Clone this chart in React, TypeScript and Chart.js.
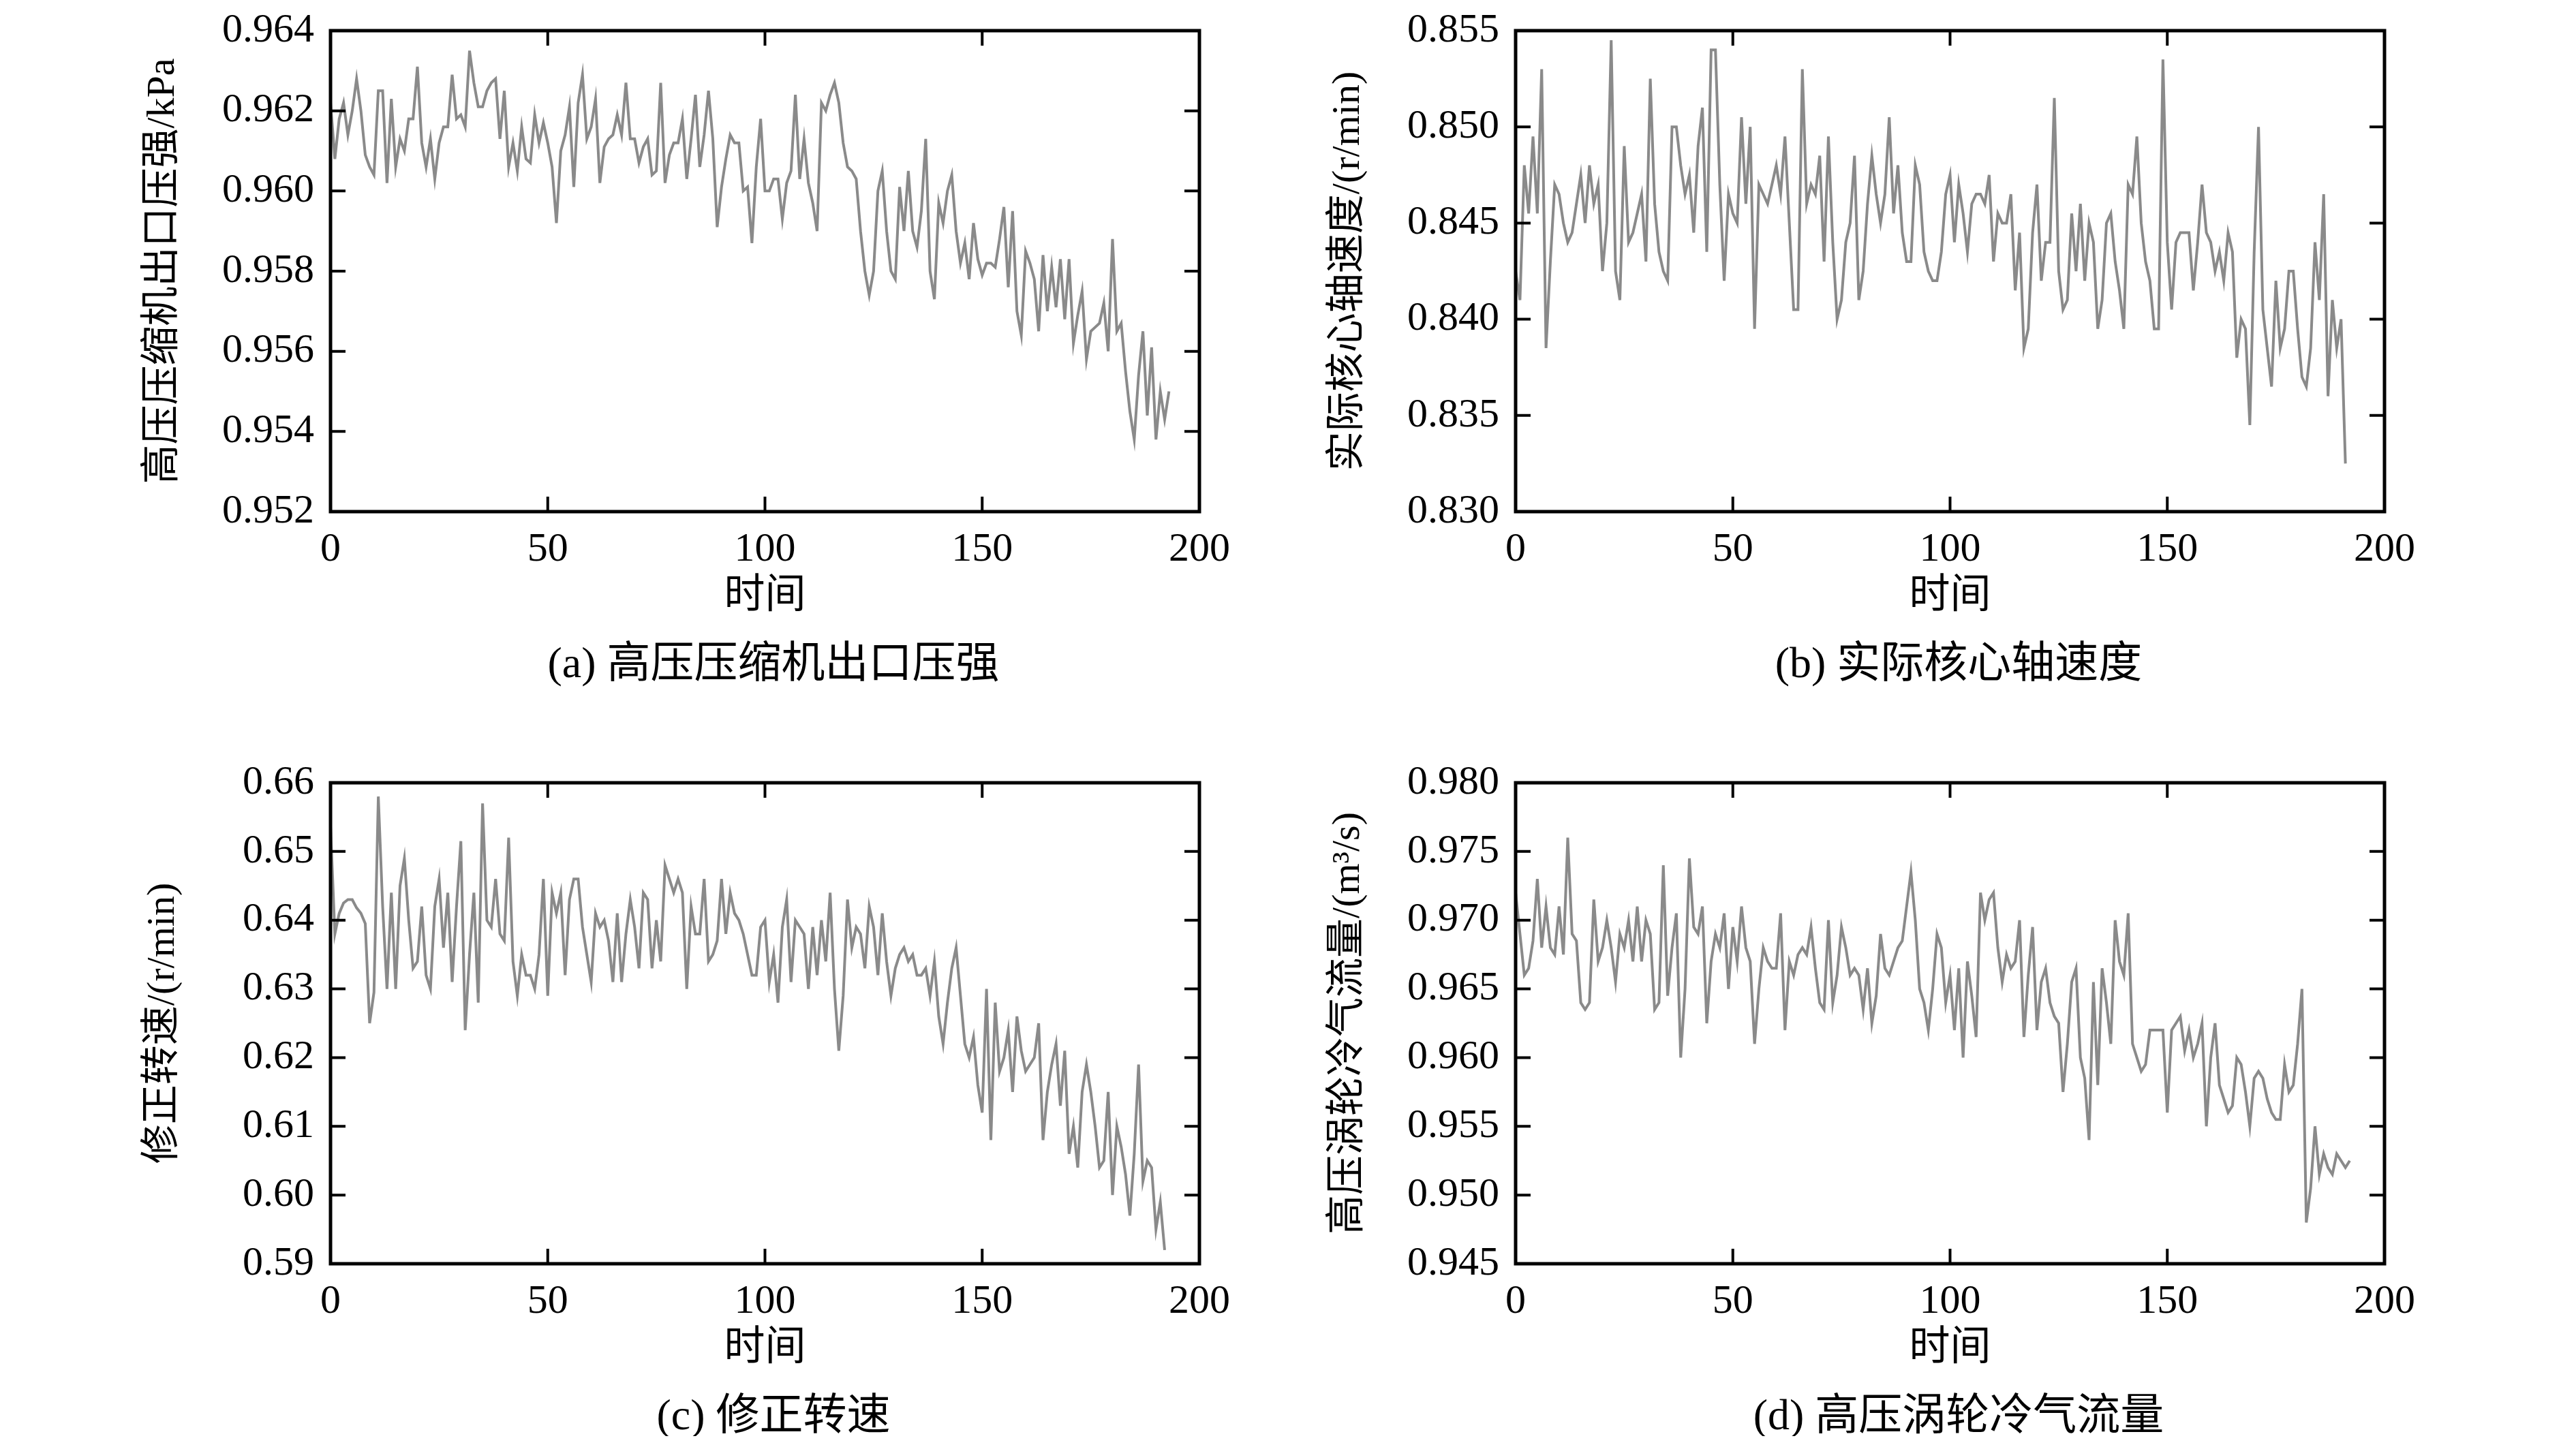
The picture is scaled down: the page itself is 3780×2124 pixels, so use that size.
import { useRef, useEffect } from 'react';
import { Chart, registerables } from 'chart.js';

Chart.register(...registerables);

const pressure = [
  0.9622, 0.9608, 0.9618, 0.9622, 0.9614, 0.9620, 0.9628, 0.9620, 0.9609, 0.9606, 0.9604, 0.9625, 0.9625, 0.9602,
  0.9623, 0.9606, 0.9613, 0.961, 0.9618, 0.9618, 0.9631, 0.9612, 0.9606, 0.9613, 0.9603, 0.9612, 0.9616, 0.9616,
  0.9629, 0.9618, 0.9619, 0.9616, 0.9635, 0.9627, 0.9621, 0.9621, 0.9625, 0.9627, 0.9628, 0.9613, 0.9625, 0.9606,
  0.9612, 0.9605, 0.9616, 0.9608, 0.9607, 0.9619, 0.9612, 0.9617, 0.9612, 0.9606, 0.9592, 0.961, 0.9614, 0.9621,
  0.9601, 0.9622, 0.9629, 0.9613, 0.9616, 0.9623, 0.9602, 0.9611, 0.9613, 0.9614, 0.9619, 0.9614, 0.9627, 0.9613,
  0.9613, 0.9607, 0.9611, 0.9613, 0.9604, 0.9605, 0.9627, 0.9602, 0.9609, 0.9612, 0.9612, 0.9618, 0.9603, 0.9613,
  0.9624, 0.9606, 0.9614, 0.9625, 0.9613, 0.9591, 0.9601, 0.9608, 0.9614, 0.9612, 0.9612, 0.96, 0.9601, 0.9587,
  0.9606, 0.9618, 0.96, 0.96, 0.9603, 0.9603, 0.9593, 0.9602, 0.9605, 0.9624, 0.9603, 0.9613, 0.9602, 0.9597,
  0.959, 0.9622, 0.962, 0.9624, 0.9627, 0.9622, 0.9612, 0.9606, 0.9605, 0.9603, 0.959, 0.958, 0.9574, 0.958,
  0.96, 0.9605, 0.959, 0.958, 0.9578, 0.9601, 0.959, 0.9605, 0.959, 0.9586, 0.9595, 0.9613, 0.958, 0.9573,
  0.9597, 0.9592, 0.96, 0.9604, 0.959, 0.9582, 0.9587, 0.9578, 0.9592, 0.9583, 0.9579, 0.9582, 0.9582, 0.9581,
  0.9588, 0.9596, 0.9576, 0.9595, 0.957, 0.9564, 0.9585, 0.9582, 0.9578, 0.9565, 0.9584, 0.957, 0.9581, 0.9571,
  0.9583, 0.9568, 0.9583, 0.9562, 0.9569, 0.9575, 0.9558, 0.9565, 0.9566, 0.9567, 0.9572, 0.956, 0.9588, 0.9565,
  0.9567, 0.9555, 0.9545, 0.9538, 0.9554, 0.9565, 0.9544, 0.9561, 0.9538, 0.955, 0.9543, 0.955,
];

const coreSpeed = [
  0.8425, 0.841, 0.848, 0.8455, 0.8495, 0.8455, 0.853, 0.8385, 0.843, 0.847, 0.8465, 0.845, 0.844, 0.8445, 0.846,
  0.8475, 0.845, 0.848, 0.846, 0.847, 0.8425, 0.845, 0.8545, 0.8425, 0.841, 0.849, 0.844, 0.8445, 0.8455, 0.8465,
  0.843, 0.8525, 0.846, 0.8435, 0.8425, 0.842, 0.85, 0.85, 0.848, 0.8465, 0.8475, 0.8445, 0.849, 0.851, 0.8435,
  0.854, 0.854, 0.847, 0.842, 0.8465, 0.8455, 0.845, 0.8505, 0.846, 0.85, 0.8395, 0.847, 0.8465, 0.846, 0.847,
  0.848, 0.8465, 0.8495, 0.845, 0.8405, 0.8405, 0.853, 0.846, 0.847, 0.8465, 0.8485, 0.843, 0.8495, 0.844, 0.84,
  0.841, 0.844, 0.845, 0.8485, 0.841, 0.8425, 0.846, 0.8485, 0.8465, 0.845, 0.8465, 0.8505, 0.8455, 0.848, 0.8445,
  0.843, 0.843, 0.848, 0.847, 0.8435, 0.8425, 0.842, 0.842, 0.8435, 0.8465, 0.8475, 0.844, 0.847, 0.8455, 0.8435,
  0.846, 0.8465, 0.8465, 0.846, 0.8475, 0.843, 0.8455, 0.845, 0.845, 0.8465, 0.8415, 0.8445, 0.8385, 0.8395,
  0.8445, 0.847, 0.842, 0.844, 0.844, 0.8515, 0.8425, 0.8405, 0.841, 0.8455, 0.8425, 0.846, 0.842, 0.845, 0.844,
  0.8395, 0.841, 0.845, 0.8455, 0.843, 0.8415, 0.8395, 0.847, 0.8465, 0.8495, 0.845, 0.843, 0.842, 0.8395, 0.8395,
  0.8535, 0.844, 0.8405, 0.844, 0.8445, 0.8445, 0.8445, 0.8415, 0.844, 0.847, 0.8445, 0.844, 0.8425, 0.8435,
  0.842, 0.8445, 0.8435, 0.838, 0.84, 0.8395, 0.8345, 0.8435, 0.85, 0.8405, 0.8385, 0.8365, 0.842, 0.8385,
  0.8395, 0.8425, 0.8425, 0.8395, 0.837, 0.8365, 0.8385, 0.844, 0.841, 0.8465, 0.836, 0.841, 0.8385, 0.84, 0.8325,
];

const correctedSpeed = [
  0.6537, 0.638, 0.641, 0.6425, 0.643, 0.643, 0.6418, 0.641, 0.6395, 0.625, 0.6295, 0.658, 0.642, 0.63, 0.644,
  0.63, 0.645, 0.649, 0.64, 0.633, 0.634, 0.642, 0.632, 0.63, 0.642, 0.646, 0.636, 0.644, 0.631, 0.642, 0.6515,
  0.624, 0.635, 0.644, 0.628, 0.657, 0.64, 0.639, 0.646, 0.638, 0.637, 0.652, 0.634, 0.629, 0.635, 0.632, 0.632,
  0.63, 0.635, 0.646, 0.629, 0.644, 0.641, 0.644, 0.632, 0.643, 0.646, 0.646, 0.639, 0.635, 0.631, 0.641, 0.639,
  0.64, 0.637, 0.631, 0.641, 0.631, 0.638, 0.643, 0.639, 0.633, 0.644, 0.643, 0.633, 0.64, 0.634, 0.648, 0.646,
  0.644, 0.646, 0.644, 0.63, 0.642, 0.638, 0.638, 0.646, 0.634, 0.635, 0.637, 0.646, 0.638, 0.644, 0.641, 0.64,
  0.638, 0.635, 0.632, 0.632, 0.639, 0.64, 0.631, 0.635, 0.628, 0.639, 0.643, 0.631, 0.64, 0.639, 0.638, 0.63,
  0.639, 0.632, 0.64, 0.634, 0.644, 0.63, 0.621, 0.629, 0.643, 0.636, 0.639, 0.638, 0.633, 0.642, 0.639, 0.632,
  0.641, 0.634, 0.629, 0.633, 0.635, 0.636, 0.634, 0.635, 0.632, 0.632, 0.633, 0.629, 0.634, 0.626, 0.622, 0.628,
  0.633, 0.636, 0.629, 0.622, 0.62, 0.623, 0.616, 0.612, 0.63, 0.608, 0.628, 0.618, 0.62, 0.624, 0.615, 0.626,
  0.621, 0.618, 0.619, 0.62, 0.625, 0.608, 0.615, 0.619, 0.622, 0.613, 0.621, 0.606, 0.61, 0.604, 0.615, 0.619,
  0.615, 0.61, 0.604, 0.605, 0.615, 0.6, 0.61, 0.607, 0.603, 0.597, 0.606, 0.619, 0.602, 0.605, 0.604, 0.595,
  0.599, 0.592,
];

const coolingFlow = [
  0.972, 0.969, 0.966, 0.9665, 0.9685, 0.973, 0.968, 0.971, 0.968, 0.9675, 0.971, 0.9675, 0.976, 0.969, 0.9685,
  0.964, 0.9635, 0.964, 0.9715, 0.967, 0.968, 0.97, 0.968, 0.9655, 0.969, 0.968, 0.97, 0.967, 0.971, 0.967, 0.97,
  0.969, 0.9635, 0.964, 0.974, 0.9645, 0.968, 0.9705, 0.96, 0.965, 0.9745, 0.9695, 0.969, 0.971, 0.9625, 0.967,
  0.969, 0.968, 0.9705, 0.965, 0.9695, 0.967, 0.971, 0.968, 0.967, 0.961, 0.965, 0.968, 0.967, 0.9665, 0.9665,
  0.9705, 0.962, 0.967, 0.966, 0.9675, 0.968, 0.9675, 0.9695, 0.9665, 0.964, 0.9635, 0.97, 0.964, 0.966, 0.9695,
  0.968, 0.966, 0.9665, 0.966, 0.9635, 0.9665, 0.9625, 0.9645, 0.969, 0.9665, 0.966, 0.967, 0.968, 0.9685, 0.971,
  0.9735, 0.97, 0.965, 0.964, 0.962, 0.965, 0.969, 0.968, 0.964, 0.966, 0.962, 0.9665, 0.96, 0.967, 0.9645, 0.9615,
  0.972, 0.97, 0.9715, 0.972, 0.968, 0.9655, 0.9675, 0.9665, 0.967, 0.97, 0.9615, 0.966, 0.9695, 0.962, 0.9655,
  0.9665, 0.964, 0.963, 0.9625, 0.9575, 0.961, 0.9655, 0.9665, 0.96, 0.9585, 0.954, 0.9655, 0.958, 0.9665, 0.964,
  0.961, 0.97, 0.967, 0.966, 0.9705, 0.961, 0.96, 0.959, 0.9595, 0.962, 0.962, 0.962, 0.962, 0.956, 0.962, 0.9625,
  0.963, 0.9605, 0.962, 0.96, 0.961, 0.9625, 0.955, 0.96, 0.9625, 0.958, 0.957, 0.956, 0.9565, 0.96, 0.9595,
  0.9575, 0.955, 0.9585, 0.959, 0.9585, 0.957, 0.956, 0.9555, 0.9555, 0.9595, 0.9575, 0.958, 0.961, 0.965, 0.948,
  0.9505, 0.955, 0.9515, 0.953, 0.952, 0.9515, 0.953, 0.9525, 0.952, 0.9525,
];

const SERIF = '"Liberation Serif", "Noto Sans CJK SC", serif';

const framePlugin = {
  id: 'frame',
  afterDraw(chart: any) {
    const { ctx, chartArea: a, scales } = chart;
    const len = 22;
    ctx.save();
    ctx.strokeStyle = '#000';
    ctx.lineWidth = 4;
    scales.x.ticks.forEach((t: any) => {
      const px = scales.x.getPixelForValue(t.value);
      ctx.beginPath();
      ctx.moveTo(px, a.bottom);
      ctx.lineTo(px, a.bottom - len);
      ctx.moveTo(px, a.top);
      ctx.lineTo(px, a.top + len);
      ctx.stroke();
    });
    scales.y.ticks.forEach((t: any) => {
      const py = scales.y.getPixelForValue(t.value);
      ctx.beginPath();
      ctx.moveTo(a.left, py);
      ctx.lineTo(a.left + len, py);
      ctx.moveTo(a.right, py);
      ctx.lineTo(a.right - len, py);
      ctx.stroke();
    });
    ctx.lineWidth = 5;
    ctx.strokeRect(a.left, a.top, a.right - a.left, a.bottom - a.top);
    ctx.restore();
  },
};

interface PanelProps {
  values: number[];
  yMin: number;
  yMax: number;
  step: number;
  digits: number;
  yTitle: string;
  caption: string;
  left: number;
  top: number;
}

const YW = 280;
const PW = 1300;
const PH = 736;

const Panel = ({ values, yMin, yMax, step, digits, yTitle, caption, left, top }: PanelProps) => {
  const canvasRef = useRef<HTMLCanvasElement | null>(null);

  useEffect(() => {
    if (!canvasRef.current) return;
    const chart = new Chart(canvasRef.current, {
      type: 'line',
      data: {
        datasets: [
          {
            data: values.map((v, i) => ({ x: i, y: v })),
            borderColor: '#8a8a8a',
            borderWidth: 4,
            pointRadius: 0,
            tension: 0,
          },
        ],
      },
      options: {
        responsive: false,
        animation: false,
        layout: { padding: { top: 30, right: 40, left: 0, bottom: 0 } },
        plugins: { legend: { display: false }, tooltip: { enabled: false } },
        scales: {
          x: {
            type: 'linear',
            min: 0,
            max: 200,
            ticks: { stepSize: 50, color: '#000', font: { family: SERIF, size: 60 }, padding: 20, maxRotation: 0 },
            grid: { display: false, drawTicks: false },
            border: { display: false },
            title: { display: true, text: '时间', color: '#000', font: { family: SERIF, size: 60 }, padding: { top: 6 } },
            afterFit: (s: any) => {
              s.height = 165;
            },
          },
          y: {
            min: yMin,
            max: yMax,
            ticks: {
              stepSize: step,
              color: '#000',
              font: { family: SERIF, size: 60 },
              padding: 24,
              callback: (v: any) => Number(v).toFixed(digits),
            },
            grid: { display: false, drawTicks: false },
            border: { display: false },
            title: { display: true, text: yTitle, color: '#000', font: { family: SERIF, size: 58 }, padding: 0 },
            afterFit: (s: any) => {
              s.width = YW;
            },
          },
        },
      },
      plugins: [framePlugin],
    });
    return () => {
      chart.destroy();
    };
  }, [values, yMin, yMax, step, digits, yTitle]);

  const w = YW + PW + 40;
  const h = 30 + PH + 165;
  const cx = left + YW + PW / 2;
  return (
    <>
      <canvas
        ref={canvasRef}
        width={w}
        height={h}
        style={{ position: 'absolute', left, top, width: w, height: h }}
      />
      <div
        style={{
          position: 'absolute',
          left: cx - 700,
          width: 1400,
          top: top + h + 4,
          textAlign: 'center',
          fontFamily: SERIF,
          fontSize: 64,
          color: '#000',
        }}
      >
        {caption}
      </div>
    </>
  );
};

export default function App() {
  return (
    <div style={{ position: 'relative', width: 3764, height: 2100, background: '#fff' }}>
      <Panel values={pressure} yMin={0.952} yMax={0.964} step={0.002} digits={3}
        yTitle="高压压缩机出口压强/kPa" caption="(a) 高压压缩机出口压强" left={197} top={-23} />
      <Panel values={coreSpeed} yMin={0.83} yMax={0.855} step={0.005} digits={3}
        yTitle="实际核心轴速度/(r/min)" caption="(b) 实际核心轴速度" left={1936} top={-23} />
      <Panel values={correctedSpeed} yMin={0.59} yMax={0.66} step={0.01} digits={2}
        yTitle="修正转速/(r/min)" caption="(c) 修正转速" left={197} top={1081} />
      <Panel values={coolingFlow} yMin={0.945} yMax={0.98} step={0.005} digits={3}
        yTitle="高压涡轮冷气流量/(m³/s)" caption="(d) 高压涡轮冷气流量" left={1936} top={1081} />
    </div>
  );
}
